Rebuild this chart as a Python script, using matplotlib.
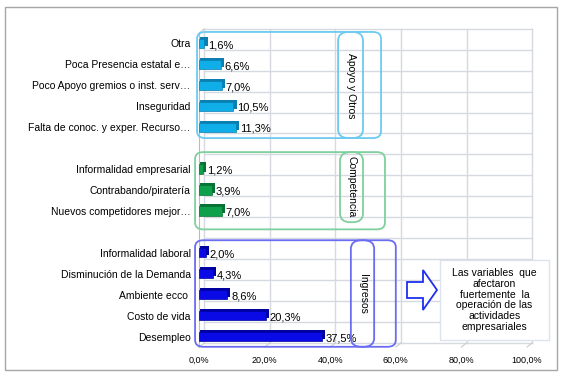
import matplotlib
matplotlib.use("Agg")
import matplotlib.pyplot as plt
from matplotlib.patches import FancyBboxPatch, Polygon, Rectangle

categories = ["Otra", "Poca Presencia estatal e…", "Poco Apoyo gremios o inst. serv…",
              "Inseguridad", "Falta de conoc. y exper. Recurso…", "",
              "Informalidad empresarial", "Contrabando/piratería", "Nuevos competidores mejor…", "",
              "Informalidad laboral", "Disminución de la Demanda", "Ambiente ecco ",
              "Costo de vida", "Desempleo"]
apoyo_vals = [1.6, 6.6, 7.0, 10.5, 11.3]
competencia_vals = [1.2, 3.9, 7.0]
ingresos_vals = [2.0, 4.3, 8.6, 20.3, 37.5]
group_names = ["Apoyo y Otros", "Competencia", "Ingresos"]
x_ticks = [0, 20, 40, 60, 80, 100]
note_text = "Las variables  que\nafectaron\nfuertemente  la\noperación de las\nactividades\nempresariales"

W, H = 565, 378
fig = plt.figure(figsize=(W / 100, H / 100), dpi=100)
plt.rcParams['font.family'] = ['Liberation Sans', 'DejaVu Sans']

def fx(px):
    return px / W

def fy(py):
    return 1 - py / H

# outer frame
fig.patches.append(Rectangle((fx(5), fy(370)), fx(552), 363 / H, transform=fig.transFigure,
                             fill=False, edgecolor="#a6a6a6", lw=1.0))

ax = fig.add_axes([fx(199), fy(347), fx(328), (347 - 33) / H])
ax.set_xlim(0, 100)
ax.set_ylim(14.5, -0.5)

groups = [
    (list(range(0, 5)), apoyo_vals, "#10aee8", "#0a7fb0", "#5ccaf2"),
    (list(range(6, 9)), competencia_vals, "#0ea04a", "#077234", "#4cc47c"),
    (list(range(10, 15)), ingresos_vals, "#0a0ae6", "#0000a0", "#4a4af5"),
]

# grid (back wall, slightly offset for 3D look)
dy, dxg = -0.2, 1.6
gc = "#d6d9df"
for k in range(16):
    ax.plot([0 + dxg, 100 + dxg], [k - 0.5 + dy, k - 0.5 + dy], color=gc, lw=1.0,
            clip_on=False, zorder=0)
for t in x_ticks:
    ax.plot([t + dxg, t + dxg], [-0.5 + dy, 14.5 + dy], color=gc, lw=1.0,
            clip_on=False, zorder=0)
    ax.plot([t, t + dxg], [14.5, 14.5 + dy], color="#c8ccd3", lw=0.8, clip_on=False, zorder=0)
ax.plot([0, dxg], [-0.5, -0.5 + dy], color="#c8ccd3", lw=0.8, clip_on=False, zorder=0)

bh = 0.44
for rows, vals, col, dark, light in groups:
    ax.barh([r - 0.1 for r in rows], [v + 1.0 for v in vals], height=bh, color=dark,
            zorder=2)
    ax.barh(rows, vals, height=bh, color=col, edgecolor=dark, lw=0.5, zorder=3)
    for r, v in zip(rows, vals):
        ax.text(v + 1.2, r + 0.08, ("%.1f%%" % v).replace(".", ","), va="center", ha="left",
                fontsize=8, zorder=4)

ax.set_yticks(range(len(categories)))
ax.set_yticklabels(categories, fontsize=7.5)
ax.set_xticks(x_ticks)
ax.set_xticklabels([("%.1f%%" % t).replace(".", ",") for t in x_ticks], fontsize=6.5)
ax.tick_params(axis="y", length=0, pad=6)
ax.tick_params(axis="x", length=0, pad=6)
for s in ["top", "right", "bottom"]:
    ax.spines[s].set_visible(False)
ax.spines["left"].set_color("#b8bcc4")
ax.patch.set_alpha(0)

# group boxes
boxes = [
    ((-0.6, -0.55, 55.5, 4.52), (42.4, -0.55, 50.0, 4.52), "#6ccbf0", 2.0),
    ((-1.2, 5.19, 56.7, 8.88), (43.0, 5.19, 50.0, 8.54), "#7fd09d", 6.85),
    ((-1.2, 9.4, 60.0, 14.49), (46.3, 9.4, 53.4, 14.49), "#6a6cf2", 11.95),
]
for (outer, inner, ec, ty), name in zip(boxes, group_names):
    x0, y0, x1, y1 = outer
    ax.add_patch(FancyBboxPatch((x0, y0), x1 - x0, y1 - y0,
                                boxstyle="round,pad=0,rounding_size=2.5", mutation_aspect=0.13,
                                fill=False, edgecolor=ec, lw=1.3, zorder=5, clip_on=False))
    x0, y0, x1, y1 = inner
    ax.add_patch(FancyBboxPatch((x0, y0), x1 - x0, y1 - y0,
                                boxstyle="round,pad=0,rounding_size=3.2", mutation_aspect=0.13,
                                fill=False, edgecolor=ec, lw=1.3, zorder=5, clip_on=False))
    ax.text((x0 + x1) / 2, ty, name, rotation=270, ha="center", va="center", fontsize=7.5,
            zorder=6)

# arrow
arrow_px = [(407, 282), (423, 282), (423, 270), (437, 290), (423, 310), (423, 298), (407, 298)]
fig.patches.append(Polygon([(fx(x), fy(y)) for x, y in arrow_px], closed=True,
                           transform=fig.transFigure, facecolor="white", edgecolor="#1f2ff0",
                           lw=1.3))
# note box
fig.patches.append(Rectangle((fx(440), fy(340)), fx(109), 80 / H, transform=fig.transFigure,
                             facecolor="white", edgecolor="#dde3ee", lw=1.0))
fig.text(fx(494.5), fy(300), note_text, ha="center", va="center", fontsize=7.5,
         linespacing=1.1)

fig.savefig("out.png", dpi=100)
